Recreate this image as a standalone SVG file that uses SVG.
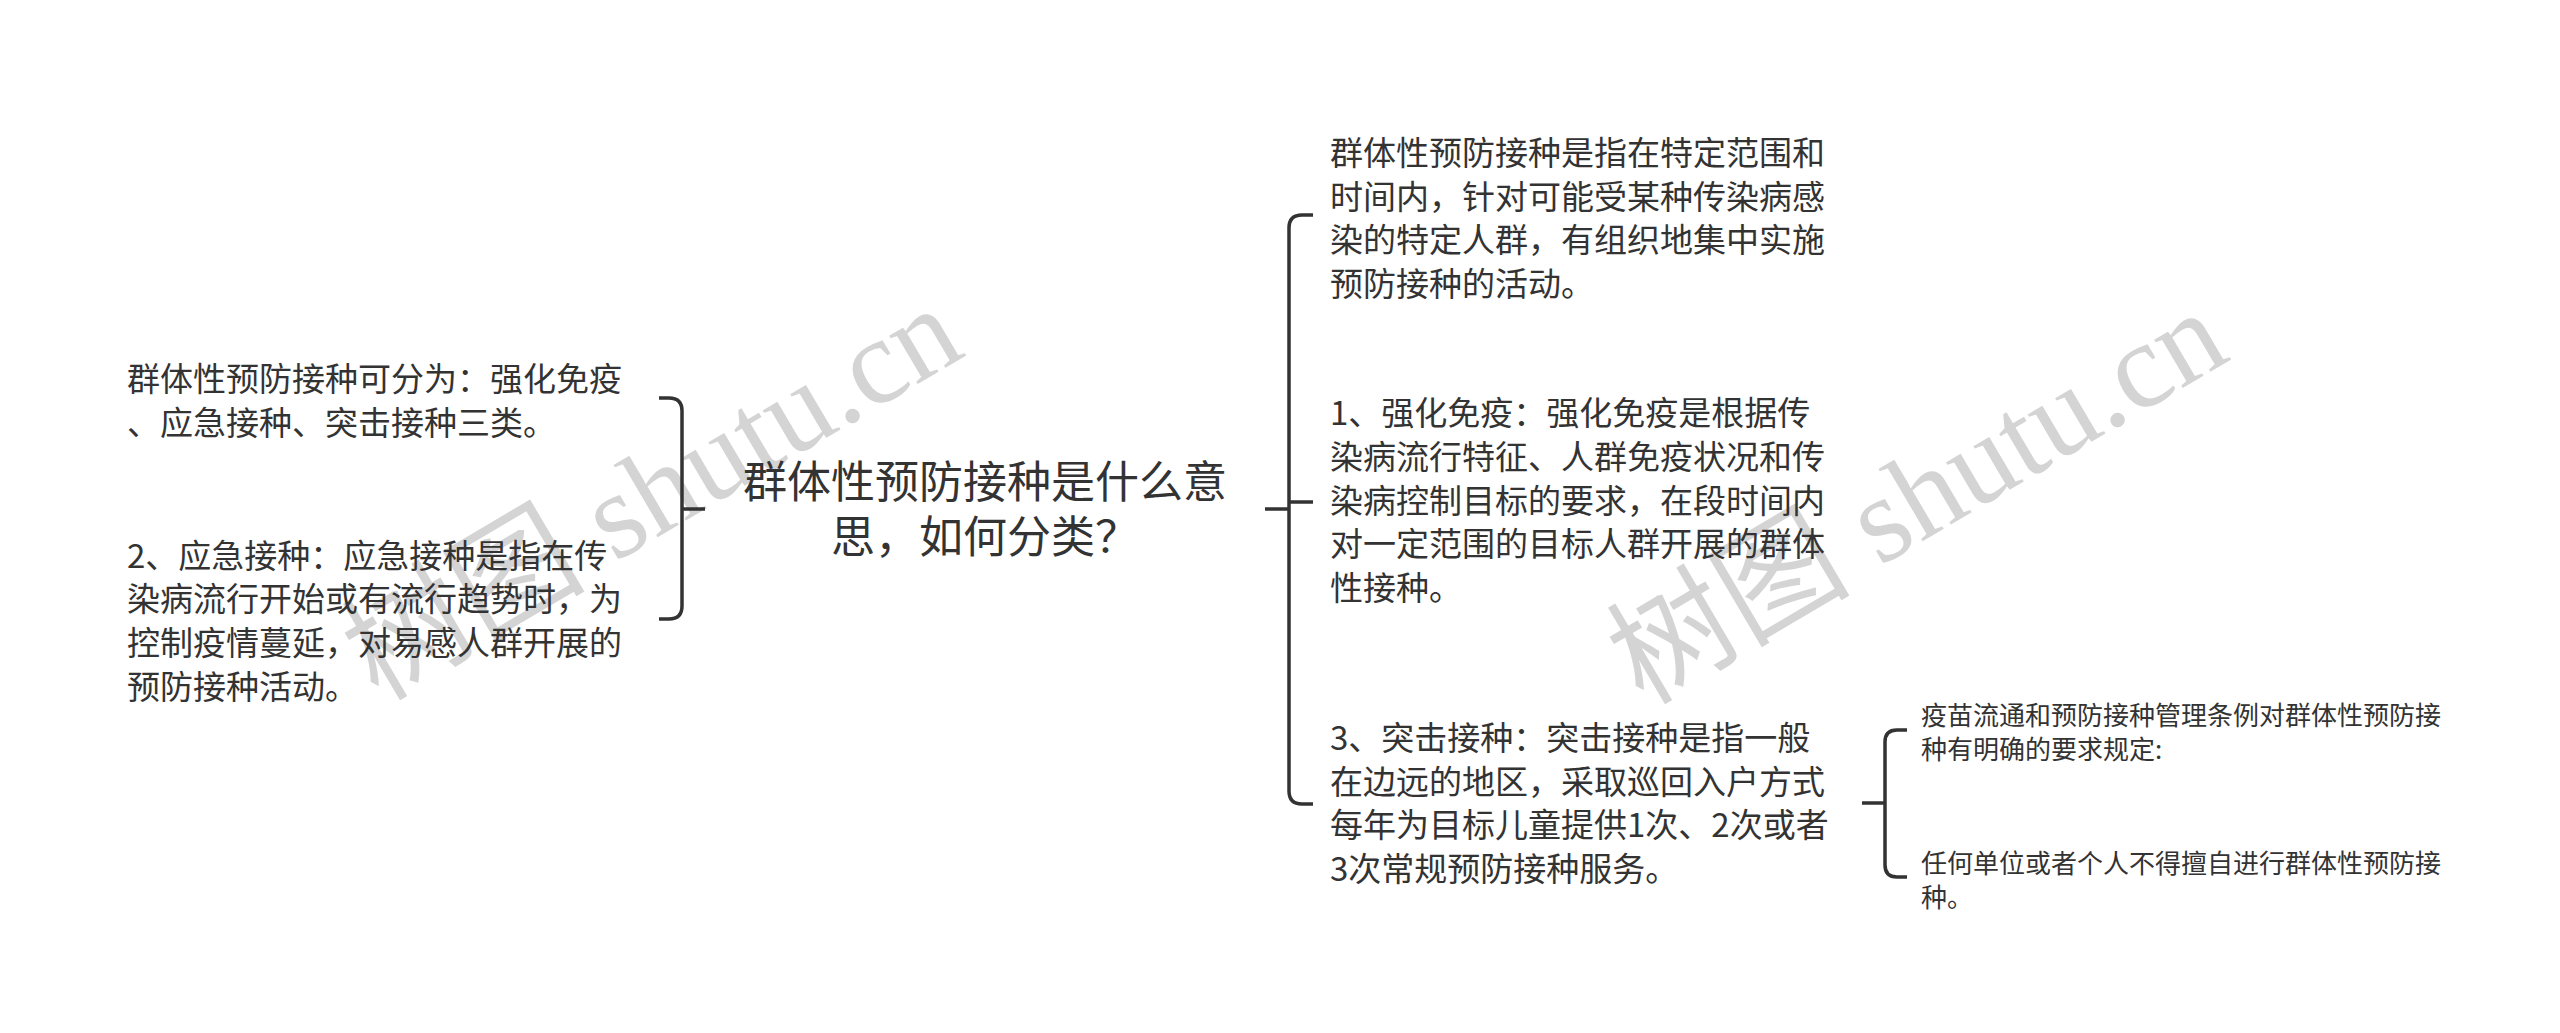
<svg xmlns="http://www.w3.org/2000/svg" width="2560" height="1033" viewBox="0 0 2560 1033">
  <style>
    .t { font-family: "Noto Sans CJK SC", "Noto Sans", sans-serif; fill: #333333; }
    .n { font-size: 33px; }
    .s { font-size: 26px; }
    .c { font-size: 44px; text-anchor: middle; }
    .wm { font-family: "Liberation Serif", "Noto Sans CJK SC", serif; font-size: 122px; fill: #d4d4d4; }
    .ln { fill: none; stroke: #333333; stroke-width: 3.5; stroke-linecap: butt; stroke-linejoin: round; }
  </style>
  <rect width="2560" height="1033" fill="#ffffff"/>

  <g id="watermarks">
    <text class="wm" transform="translate(378,702) rotate(-30.5)">树图 shutu.cn</text>
    <text class="wm" transform="translate(1643,706) rotate(-30.5)">树图 shutu.cn</text>
  </g>

  <g id="connectors">
    <!-- left bracket -->
    <path class="ln" d="M659 398 H669 Q682 398 682 411 V606 Q682 619 669 619 H659"/>
    <path class="ln" d="M682 509 H705"/>
    <!-- right main bracket -->
    <path class="ln" d="M1313 215 H1302 Q1289 215 1289 228 V791 Q1289 804 1302 804 H1313"/>
    <path class="ln" d="M1289 502 H1313"/>
    <path class="ln" d="M1265 509 H1289"/>
    <!-- small bracket -->
    <path class="ln" d="M1907 730 H1897 Q1885 730 1885 742 V865 Q1885 877 1897 877 H1907"/>
    <path class="ln" d="M1862 803 H1885"/>
  </g>

  <g id="center">
    <text class="t c"><tspan x="985" y="498">群体性预防接种是什么意</tspan><tspan x="985" y="553">思，如何分类？</tspan></text>
  </g>

  <g id="left1">
    <text class="t n"><tspan x="127" y="390.5">群体性预防接种可分为：强化免疫</tspan><tspan x="127" y="434.5">、应急接种、突击接种三类。</tspan></text>
  </g>

  <g id="left2">
    <text class="t n"><tspan x="127" y="567.5">2、应急接种：应急接种是指在传</tspan><tspan x="127" y="611">染病流行开始或有流行趋势时，为</tspan><tspan x="127" y="655">控制疫情蔓延，对易感人群开展的</tspan><tspan x="127" y="698.5">预防接种活动。</tspan></text>
  </g>

  <g id="right1">
    <text class="t n"><tspan x="1330" y="165">群体性预防接种是指在特定范围和</tspan><tspan x="1330" y="208.5">时间内，针对可能受某种传染病感</tspan><tspan x="1330" y="252">染的特定人群，有组织地集中实施</tspan><tspan x="1330" y="295.5">预防接种的活动。</tspan></text>
  </g>

  <g id="right2">
    <text class="t n"><tspan x="1330" y="425">1、强化免疫：强化免疫是根据传</tspan><tspan x="1330" y="469">染病流行特征、人群免疫状况和传</tspan><tspan x="1330" y="512.5">染病控制目标的要求，在段时间内</tspan><tspan x="1330" y="556">对一定范围的目标人群开展的群体</tspan><tspan x="1330" y="600">性接种。</tspan></text>
  </g>

  <g id="right3">
    <text class="t n"><tspan x="1330" y="750">3、突击接种：突击接种是指一般</tspan><tspan x="1330" y="794">在边远的地区，采取巡回入户方式</tspan><tspan x="1330" y="837">每年为目标儿童提供1次、2次或者</tspan><tspan x="1330" y="881">3次常规预防接种服务。</tspan></text>
  </g>

  <g id="sub1">
    <text class="t s"><tspan x="1921" y="725">疫苗流通和预防接种管理条例对群体性预防接</tspan><tspan x="1921" y="758.5">种有明确的要求规定:</tspan></text>
  </g>

  <g id="sub2">
    <text class="t s"><tspan x="1921" y="873">任何单位或者个人不得擅自进行群体性预防接</tspan><tspan x="1921" y="906.5">种。</tspan></text>
  </g>
</svg>
